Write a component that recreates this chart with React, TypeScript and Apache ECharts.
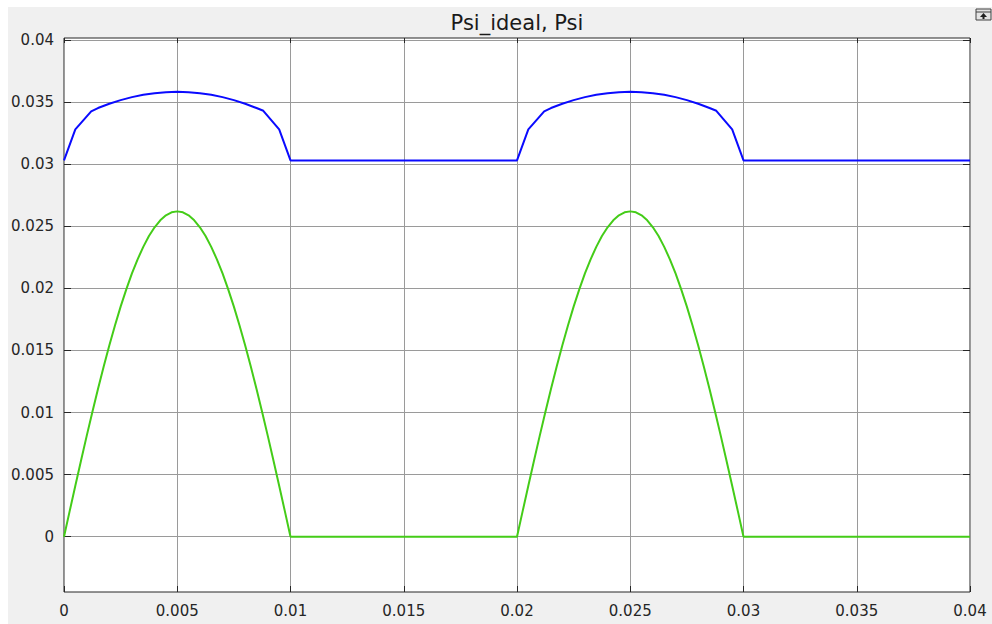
import React, { useEffect, useRef } from "react";
import * as echarts from "echarts";

// Tick values
const xTicks = [0, 0.005, 0.01, 0.015, 0.02, 0.025, 0.03, 0.035, 0.04];
const yTicks = [0, 0.005, 0.01, 0.015, 0.02, 0.025, 0.03, 0.035, 0.04];

// Start time of each conduction period (both signals repeat every 0.02 s)
const periodStarts = [0, 0.02];
const periodLength = 0.02;

// Psi_ideal: values read along one hump, sampled every 0.00025 s from 0 to 0.01
const psiIdealStep = 0.00025;
const psiIdealHump = [
  0, 0.00206, 0.0041, 0.00612, 0.0081, 0.01003, 0.01189, 0.01369, 0.0154, 0.01701,
  0.01853, 0.01992, 0.0212, 0.02234, 0.02334, 0.02421, 0.02492, 0.02548, 0.02588, 0.02612,
  0.0262,
  0.02612, 0.02588, 0.02548, 0.02492, 0.02421, 0.02334, 0.02234, 0.0212, 0.01992, 0.01853,
  0.01701, 0.0154, 0.01369, 0.01189, 0.01003, 0.0081, 0.00612, 0.0041, 0.00206, 0,
];
const psiIdealRest = 0;

// Psi: points read along one hump (time offset within period, value)
const psiHumpT = [
  0, 0.0005, 0.0012, 0.0015, 0.002, 0.0025, 0.003, 0.0035, 0.004, 0.0045, 0.005,
  0.0055, 0.006, 0.0065, 0.007, 0.0075, 0.008, 0.0085, 0.0088, 0.0095, 0.01,
];
const psiHumpV = [
  0.0303, 0.0328, 0.03425, 0.03452, 0.03487, 0.03516, 0.0354, 0.03559, 0.03572, 0.0358, 0.03583,
  0.0358, 0.03572, 0.03559, 0.0354, 0.03516, 0.03487, 0.03452, 0.0343, 0.0328, 0.0303,
];
const psiRest = 0.0303;

const xMin = 0;
const xMax = 0.04;
const yMin = -0.00445;
const yMax = 0.04016;

function buildPsiIdeal(): number[][] {
  const out: number[][] = [];
  periodStarts.forEach((p0) => {
    psiIdealHump.forEach((v, i) => out.push([p0 + i * psiIdealStep, v]));
    out.push([p0 + periodLength, psiIdealRest]);
  });
  return out;
}

function buildPsi(): number[][] {
  const out: number[][] = [];
  periodStarts.forEach((p0) => {
    psiHumpT.forEach((t, i) => out.push([p0 + t, psiHumpV[i]]));
    out.push([p0 + periodLength, psiRest]);
  });
  return out;
}

const FONT = "DejaVu Sans";
const LABEL_COLOR = "#262626";
const AXIS_COLOR = "#262626";
const GRID_COLOR = "#9a9a9a";

export default function App() {
  const ref = useRef<HTMLDivElement>(null);

  useEffect(() => {
    if (!ref.current) return;
    const prevOverflow = document.body.style.overflow;
    document.body.style.overflow = "hidden";
    const chart = echarts.init(ref.current, undefined, { renderer: "svg" });

    const tickCommon = {
      show: true,
      inside: true,
      length: 6,
      lineStyle: { color: AXIS_COLOR, width: 1 },
    };

    chart.setOption({
      animation: false,
      backgroundColor: "#f0f0f0",
      grid: {
        left: 56,
        top: 31,
        right: 22,
        bottom: 32,
        show: true,
        backgroundColor: "#ffffff",
        borderColor: AXIS_COLOR,
        borderWidth: 1,
      },
      xAxis: [
        {
          type: "value",
          min: xMin,
          max: xMax,
          position: "bottom",
          axisLine: { show: false, onZero: false },
          axisTick: { ...tickCommon, customValues: xTicks },
          axisLabel: {
            customValues: xTicks,
            color: LABEL_COLOR,
            fontFamily: FONT,
            fontSize: 15,
            margin: 11,
          },
          splitLine: { show: true, lineStyle: { color: GRID_COLOR, width: 1 } },
        },
        {
          type: "value",
          min: xMin,
          max: xMax,
          position: "top",
          axisLine: { show: false, onZero: false },
          axisTick: { ...tickCommon, length: 5, customValues: xTicks },
          axisLabel: { show: false, customValues: xTicks },
          splitLine: { show: false },
        },
      ],
      yAxis: [
        {
          type: "value",
          min: yMin,
          max: yMax,
          position: "left",
          axisLine: { show: false, onZero: false },
          axisTick: { ...tickCommon, length: 7, customValues: yTicks },
          axisLabel: {
            customValues: yTicks,
            color: LABEL_COLOR,
            fontFamily: FONT,
            fontSize: 15,
            margin: 10,
          },
          splitLine: { show: true, lineStyle: { color: GRID_COLOR, width: 1 } },
        },
        {
          type: "value",
          min: yMin,
          max: yMax,
          position: "right",
          axisLine: { show: false, onZero: false },
          axisTick: { ...tickCommon, length: 7, customValues: yTicks },
          axisLabel: { show: false, customValues: yTicks },
          splitLine: { show: false },
        },
      ],
      series: [
        {
          name: "Psi",
          type: "line",
          xAxisIndex: 0,
          yAxisIndex: 0,
          data: buildPsi(),
          showSymbol: false,
          symbol: "none",
          lineStyle: { color: "#0a0aff", width: 2 },
          z: 3,
        },
        {
          name: "Psi_ideal",
          type: "line",
          xAxisIndex: 0,
          yAxisIndex: 0,
          data: buildPsiIdeal(),
          showSymbol: false,
          symbol: "none",
          lineStyle: { color: "#44cc18", width: 2 },
          z: 3,
        },
      ],
      graphic: [
        {
          type: "text",
          x: 509,
          y: 16,
          style: {
            text: "Psi_ideal, Psi",
            fontFamily: FONT,
            fontSize: 21,
            fill: "#1a1a1a",
            textAlign: "center",
            textVerticalAlign: "middle",
          },
        },
        {
          type: "group",
          x: 968,
          y: 2,
          children: [
            {
              type: "rect",
              shape: { x: 0, y: 0, width: 15, height: 11 },
              style: { fill: "#e4e4e4", stroke: "#404040", lineWidth: 1 },
            },
            {
              type: "line",
              shape: { x1: 0, y1: 3, x2: 15, y2: 3 },
              style: { stroke: "#404040", lineWidth: 1 },
            },
            {
              type: "polygon",
              shape: { points: [[7.5, 4], [4, 8], [11, 8]] },
              style: { fill: "#202020" },
            },
            {
              type: "rect",
              shape: { x: 6.5, y: 7, width: 2, height: 3 },
              style: { fill: "#202020" },
            },
          ],
        },
      ],
    });

    return () => {
      chart.dispose();
      document.body.style.overflow = prevOverflow;
    };
  }, []);

  return (
    <div
      ref={ref}
      style={{ position: "absolute", left: 8, top: 7, width: 984, height: 617 }}
    />
  );
}
